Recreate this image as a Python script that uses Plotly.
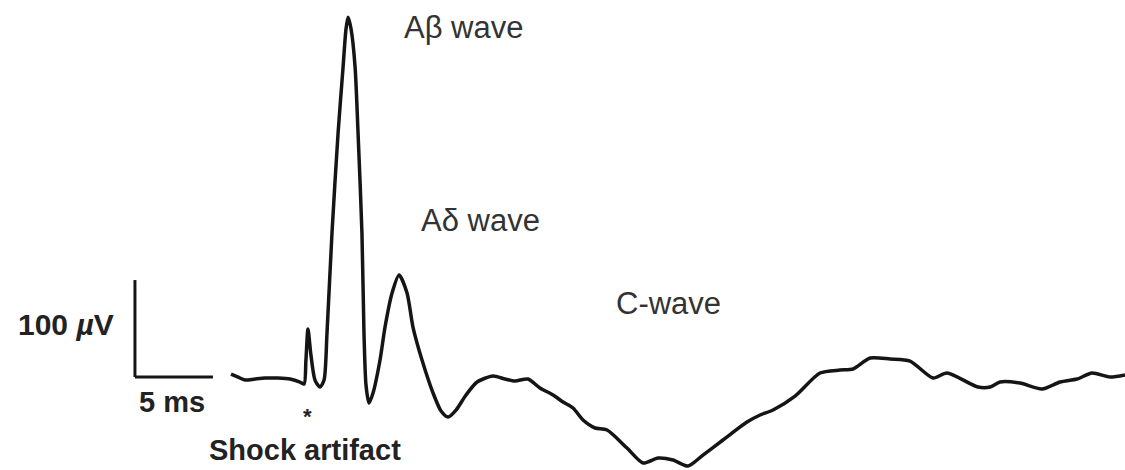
import plotly.graph_objects as go

# Compound action potential trace: time after stimulus (ms) and amplitude (µV)
time_ms = [
    -4.74, -4.29, -3.85, -3.21, -2.56, -1.73, -0.96, -0.32, -0.06, 0.06,
    0.19, 0.38, 0.64, 0.96, 1.22, 1.41, 1.73, 2.12, 2.44, 2.63,
    2.76, 2.95, 3.21, 3.40, 3.65, 3.78, 3.91, 4.10, 4.36, 4.81,
    5.13, 5.58, 6.03, 6.54, 6.92, 7.50, 8.21, 8.72, 9.17, 9.68,
    10.32, 11.03, 12.05, 12.82, 13.46, 14.29, 15.06, 15.90, 16.54, 17.18,
    17.82, 18.59, 19.36, 20.64, 21.67, 22.63, 23.59, 24.55, 25.51, 26.79,
    28.33, 29.17, 30.00, 31.41, 33.01, 34.29, 35.13, 36.22, 37.50, 38.78,
    40.26, 41.15, 43.14, 43.91, 44.55, 45.83, 47.24, 48.40, 49.49, 50.45,
    51.60, 52.56,
]
amplitude_uv = [
    4.1, 1.0, -2.1, -1.0, 0.0, 0.0, -1.0, -4.1, -6.2, 18.6,
    50.5, 23.7, -2.1, -9.3, -2.1, 46.4, 149.5, 252.6, 320.6, 360.0,
    372.0, 360.0, 320.6, 252.6, 149.5, 46.4, -7.2, -25.8, -15.5, 18.6,
    52.6, 87.6, 106.2, 87.6, 52.6, 18.6, -15.5, -34.0, -40.2, -33.0,
    -17.5, -4.1, 2.1, -1.0, -3.1, -1.0, -10.3, -17.5, -24.7, -30.9,
    -43.3, -51.5, -53.6, -72.2, -87.6, -82.5, -84.5, -90.7, -79.4, -63.9,
    -45.4, -38.1, -33.0, -18.6, 5.2, 8.2, 9.3, 20.6, 19.6, 17.5,
    0.0, 5.2, -9.3, -9.3, -4.1, -5.2, -11.3, -4.1, -1.0, 5.2,
    1.0, 3.1,
]

# Calibration bar
bar_origin = (-10.9, 1.0)
bar_time_ms = 5
bar_amp_uv = 100

# Wave labels (text, time, amplitude)
wave_labels = ["A\u03b2 wave", "A\u03b4 wave", "C-wave"]
wave_label_t = [10.19, 11.22, 23.27]
wave_label_v = [361.3, 161.9, 77.3]

FONT = "Liberation Sans, Arial, Helvetica, sans-serif"
INK = "#151515"

fig = go.Figure()
fig.add_trace(go.Scatter(
    x=time_ms, y=amplitude_uv, mode="lines",
    line=dict(color=INK, width=3.5, shape="spline", smoothing=0.7),
    hoverinfo="skip", showlegend=False,
))

x0, y0 = bar_origin
fig.add_shape(type="line", x0=x0, y0=y0, x1=x0, y1=y0 + bar_amp_uv,
              line=dict(color=INK, width=3))
fig.add_shape(type="line", x0=x0, y0=y0, x1=x0 + bar_time_ms, y1=y0,
              line=dict(color=INK, width=3))

fig.add_annotation(x=x0 - 1.2, y=y0 + 54, text="<b>100 <i>\u00b5</i>V</b>",
                   xanchor="right", yanchor="middle", showarrow=False,
                   font=dict(family=FONT, size=30, color="#222"))
fig.add_annotation(x=x0 + 0.13, y=-24.7, text="<b>5 ms</b>",
                   xanchor="left", yanchor="middle", showarrow=False,
                   font=dict(family=FONT, size=29, color="#222"))
fig.add_annotation(x=0.15, y=-54.5, text="<b>*</b>",
                   xanchor="center", yanchor="bottom", showarrow=False,
                   font=dict(family=FONT, size=22, color="#222"))
fig.add_annotation(x=0.0, y=-74.0, text="<b>Shock artifact</b>",
                   xanchor="center", yanchor="middle", showarrow=False,
                   font=dict(family=FONT, size=29, color="#222"))

for txt, t, v in zip(wave_labels, wave_label_t, wave_label_v):
    fig.add_annotation(x=t, y=v, text=txt, xanchor="center", yanchor="middle",
                       showarrow=False,
                       font=dict(family=FONT, size=31, color="#333"))

fig.update_xaxes(visible=False, range=[-19.55, 52.56])
fig.update_yaxes(visible=False, range=[-94.8, 389.7])
fig.update_layout(
    width=1125, height=470,
    margin=dict(l=0, r=0, t=0, b=0),
    paper_bgcolor="white", plot_bgcolor="white",
)

fig.write_html("out.html")
